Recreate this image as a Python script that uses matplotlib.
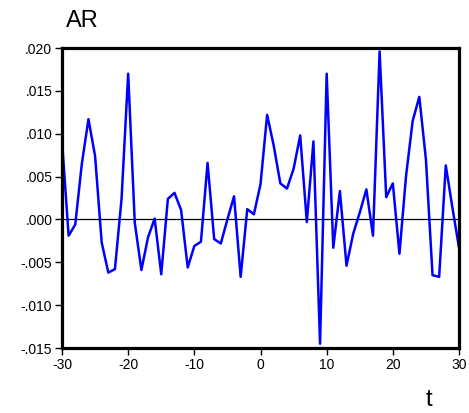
import numpy as np
import matplotlib
matplotlib.use("Agg")
import matplotlib.pyplot as plt
from matplotlib.ticker import FuncFormatter

plt.rcParams['font.family'] = ['Liberation Sans', 'DejaVu Sans']
plt.rcParams['axes.unicode_minus'] = False

# Lag index and AR values
t = np.arange(-30, 31)
ar = [
    0.0092, -0.0019, -0.0006, 0.0065, 0.0117, 0.0074, -0.0027, -0.0062, -0.0058, 0.0024,
    0.0170, -0.0004, -0.0059, -0.0021, 0.0001, -0.0064, 0.0024, 0.0031, 0.0011, -0.0056,
    -0.0031, -0.0026, 0.0066, -0.0023, -0.0028, 0.0000, 0.0027, -0.0067, 0.0012, 0.0006,
    0.0041, 0.0122, 0.0086, 0.0042, 0.0036, 0.0059, 0.0098, -0.0003, 0.0091, -0.0145,
    0.0170, -0.0033, 0.0033, -0.0054, -0.0017, 0.0008, 0.0035, -0.0019, 0.0196, 0.0026,
    0.0042, -0.0040, 0.0051, 0.0115, 0.0143, 0.0070, -0.0065, -0.0067, 0.0063, 0.0014,
    -0.0033,
]
xticks = [-30, -20, -10, 0, 10, 20, 30]
yticks = [-0.015, -0.010, -0.005, 0.000, 0.005, 0.010, 0.015, 0.020]

W, H = 469, 413
fig = plt.figure(figsize=(W / 100, H / 100), dpi=100)
ax = fig.add_axes([62 / W, 1 - 348 / H, 397 / W, 300 / H])

ax.axhline(0, color='black', lw=0.9, zorder=1)
ax.plot(t, ar, color='#0000ff', lw=1.8, zorder=2)

ax.set_xlim(-30, 30)
ax.set_ylim(-0.015, 0.020)
ax.set_xticks(xticks)
ax.set_yticks(yticks)


def fmt(v, pos):
    s = f"{v:.3f}"
    if s.startswith("-0"):
        s = "-" + s[2:]
    elif s.startswith("0"):
        s = s[1:]
    return s


ax.yaxis.set_major_formatter(FuncFormatter(fmt))
ax.tick_params(direction='out', length=5, width=1, labelsize=10, pad=2,
               top=False, right=False)
for sp in ax.spines.values():
    sp.set_linewidth(2.3)

fig.text(66 / W, 1 - 27 / H, "AR", fontsize=17, ha='left', va='baseline')
fig.text(429 / W, 1 - 406 / H, "t", fontsize=17, ha='center', va='baseline')

fig.savefig("out.png", dpi=100)
